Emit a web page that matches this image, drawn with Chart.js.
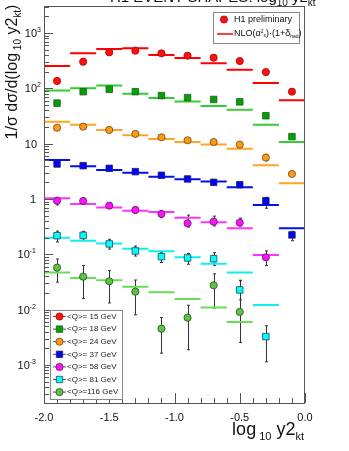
<!DOCTYPE html>
<html>
<head>
<meta charset="utf-8">
<script src="https://cdn.jsdelivr.net/npm/chart.js@4/dist/chart.umd.min.js"></script>
<style>
  html, body { margin: 0; padding: 0; background: #fff; }
</style>
</head>
<body>
<canvas id="c" width="349" height="451"></canvas>
<script>
// --- bins (log10 y2kt) ---
const xCenters = [-1.9, -1.7, -1.5, -1.3, -1.1, -0.9, -0.7, -0.5, -0.3, -0.1];
const xTickLabels = ['-2.0', '-1.5', '-1.0', '-0.5', '0.0'];

// --- H1 data points ---
const q15Data  = [136, 303, 448, 480, 430, 389, 358, 312, 197, 87];
const q18Data  = [54, 87, 96, 87, 74, 68, 63, 57, 32, 13.4];
const q24Data  = [19.4, 20.3, 17.7, 15, 13, 11.5, 10.7, 9.6, 5.6, 2.83];
const q37Data  = [4.29, 4.0, 3.58, 3.12, 2.68, 2.30, 2.0, 1.81, 0.93, 0.224];
const q58Data  = [0.93, 0.92, 0.757, 0.633, 0.536, 0.363, 0.389, 0.373, 0.0883, null];
const q81Data  = [0.217, 0.22, 0.154, 0.115, 0.0906, 0.0859, 0.0834, 0.0227, 0.00325, null];
const q116Data = [0.0574, 0.0394, 0.0325, 0.0211, 0.00453, 0.00716, 0.0275, 0.00908, null, null];

// --- NLO (alpha_s^2)(1+delta_had) per bin ---
const q15Nlo  = [253, 430, 514, 529, 401, 353, 283, 217, 125, 61];
const q18Nlo  = [91, 100, 112, 80, 67, 58, 48, 41, 22, 10.7];
const q24Nlo  = [25, 22, 17.7, 14.2, 12.1, 10.7, 9.7, 8.1, 4.06, 1.92];
const q37Nlo  = [5.07, 3.9, 3.34, 2.99, 2.53, 2.27, 2.06, 1.63, 0.78, 0.295];
const q58Nlo  = [1.03, 0.81, 0.70, 0.615, 0.582, 0.459, 0.379, 0.295, 0.0973, null];
const q81Nlo  = [0.2, 0.176, 0.156, 0.126, 0.113, 0.0883, 0.0678, 0.0467, 0.0121, null];
const q116Nlo = [0.0467, 0.0373, 0.0339, 0.026, 0.0206, 0.0156, 0.0109, 0.00598, null, null];

// --- error bar ends (null = hidden behind marker) ---
const q24Lo  = [null, null, null, null, null, null, null, null, 4.9, 2.55];
const q24Hi  = [null, null, null, null, null, null, null, null, 6.4, 3.15];
const q37Lo  = [null, null, null, null, null, null, null, null, 0.68, 0.176];
const q37Hi  = [null, null, null, null, null, null, null, null, 1.07, 0.26];
const q58Lo  = [0.78, 0.8, 0.68, 0.55, 0.46, 0.31, 0.325, 0.325, 0.0624, null];
const q58Hi  = [1.07, 1.05, 0.84, 0.72, 0.62, 0.51, 0.49, 0.45, 0.115, null];
const q81Lo  = [0.167, 0.18, 0.124, 0.093, 0.071, 0.066, 0.063, 0.015, 0.00114, null];
const q81Hi  = [0.263, 0.26, 0.187, 0.141, 0.107, 0.103, 0.107, 0.034, 0.0051, null];
const q116Lo = [0.0314, 0.0158, 0.0132, 0.00805, 0.00163, 0.00188, 0.0107, 0.00255, null, null];
const q116Hi = [0.0823, 0.0625, 0.0506, 0.0343, 0.0072, 0.012, 0.0443, 0.0334, null, null];

const series = [
  { label: '<Q>= 15 GeV', pts: q15Data, nlo: q15Nlo, lo: null, hi: null, fill: '#ff1010', edge: '#b00000', line: '#ff0000', shape: 'circle' },
  { label: '<Q>= 18 GeV', pts: q18Data, nlo: q18Nlo, lo: null, hi: null, fill: '#00a400', edge: '#225522', line: '#33cc33', shape: 'rect' },
  { label: '<Q>= 24 GeV', pts: q24Data, nlo: q24Nlo, lo: q24Lo, hi: q24Hi, fill: '#ff9a10', edge: '#664422', line: '#ffa526', shape: 'circle' },
  { label: '<Q>= 37 GeV', pts: q37Data, nlo: q37Nlo, lo: q37Lo, hi: q37Hi, fill: '#0000ff', edge: '#222255', line: '#0010ee', shape: 'rect' },
  { label: '<Q>= 58 GeV', pts: q58Data, nlo: q58Nlo, lo: q58Lo, hi: q58Hi, fill: '#ff10ff', edge: '#552255', line: '#ff33ff', shape: 'circle' },
  { label: '<Q>= 81 GeV', pts: q81Data, nlo: q81Nlo, lo: q81Lo, hi: q81Hi, fill: '#00ffff', edge: '#224455', line: '#11eeee', shape: 'rect' },
  { label: '<Q>=116 GeV', pts: q116Data, nlo: q116Nlo, lo: q116Lo, hi: q116Hi, fill: '#5cc444', edge: '#2a4a22', line: '#66dd55', shape: 'circle' }
];

const FONT = '"Liberation Sans", Arial, sans-serif';
const halfBin = 0.1;

// build datasets: NLO steps (broken line) + markers
const datasets = [];
series.forEach(s => {
  const seg = [];
  xCenters.forEach((x, i) => {
    if (s.nlo[i] == null) return;
    seg.push({ x: x - halfBin, y: s.nlo[i] });
    seg.push({ x: x + halfBin, y: s.nlo[i] });
    seg.push({ x: x + halfBin, y: null });
  });
  datasets.push({
    data: seg, showLine: true, spanGaps: false,
    borderColor: s.line, borderWidth: 2, pointRadius: 0, order: 2
  });
});
series.forEach(s => {
  datasets.push({
    data: xCenters.map((x, i) => ({ x: x, y: s.pts[i] })),
    pointStyle: s.shape,
    pointRadius: s.shape === 'rect' ? 4.6 : 3.6,
    backgroundColor: s.fill, borderColor: s.edge, borderWidth: 0.8,
    order: 1
  });
});

// text with sub/superscripts: parts = [text, size, dy]
function richWidth(ctx, parts) {
  let w = 0;
  parts.forEach(p => { ctx.font = p[1] + 'px ' + FONT; w += ctx.measureText(p[0]).width; });
  return w;
}
function drawRich(ctx, parts, x, y) {
  let cx = x;
  parts.forEach(p => {
    ctx.font = p[1] + 'px ' + FONT;
    ctx.fillText(p[0], cx, y + (p[2] || 0));
    cx += ctx.measureText(p[0]).width;
  });
}

function drawMarker(ctx, shape, x, y, fill, edge) {
  ctx.fillStyle = fill; ctx.strokeStyle = edge; ctx.lineWidth = 0.8;
  ctx.beginPath();
  if (shape === 'rect') ctx.rect(x - 3.2, y - 3.2, 6.4, 6.4);
  else ctx.arc(x, y, 3.6, 0, Math.PI * 2);
  ctx.fill(); ctx.stroke();
}

const errorBars = {
  id: 'errorBars',
  beforeDatasetsDraw(chart) {
    const { ctx, scales: { x, y } } = chart;
    ctx.save();
    ctx.strokeStyle = '#333'; ctx.lineWidth = 1;
    series.forEach(s => {
      if (!s.lo) return;
      xCenters.forEach((xv, i) => {
        if (s.lo[i] == null || s.pts[i] == null) return;
        const px = Math.round(x.getPixelForValue(xv)) + 0.5;
        const y1 = y.getPixelForValue(s.hi[i]);
        const y2 = y.getPixelForValue(s.lo[i]);
        ctx.beginPath();
        ctx.moveTo(px, y1); ctx.lineTo(px, y2);
        ctx.moveTo(px - 1.5, y1); ctx.lineTo(px + 1.5, y1);
        ctx.moveTo(px - 1.5, y2); ctx.lineTo(px + 1.5, y2);
        ctx.stroke();
      });
    });
    ctx.restore();
  }
};

const frame = {
  id: 'frame',
  afterDraw(chart) {
    const { ctx, chartArea: a, scales: { x, y } } = chart;
    ctx.save();
    // frame
    ctx.strokeStyle = '#555'; ctx.lineWidth = 1;
    ctx.strokeRect(a.left + 0.5, a.top + 0.5, a.right - a.left - 1, a.bottom - a.top);

    // y ticks (inward, left)
    ctx.beginPath();
    for (let e = -4; e <= 3; e++) {
      for (let m = 1; m <= 9; m++) {
        const v = m * Math.pow(10, e);
        if (v < y.min || v > y.max) continue;
        const py = Math.round(y.getPixelForValue(v)) + 0.5;
        ctx.moveTo(a.left, py); ctx.lineTo(a.left + (m === 1 ? 9 : 5), py);
      }
    }
    // x ticks (inward, bottom)
    for (let k = 0; k <= 20; k++) {
      const v = -2 + k * 0.1;
      const px = Math.round(x.getPixelForValue(v)) + 0.5;
      ctx.moveTo(px, a.bottom); ctx.lineTo(px, a.bottom - (k % 5 === 0 ? 10 : 5));
    }
    ctx.stroke();

    // x tick labels
    ctx.fillStyle = '#111';
    ctx.font = '11px ' + FONT; ctx.textAlign = 'center'; ctx.textBaseline = 'alphabetic';
    xTickLabels.forEach(t => ctx.fillText(t, x.getPixelForValue(parseFloat(t)), 421));

    // y tick labels
    ctx.textAlign = 'left';
    for (let e = -3; e <= 3; e++) {
      const py = y.getPixelForValue(Math.pow(10, e)) + 4;
      if (e === 0) { ctx.font = '11px ' + FONT; ctx.fillText('1', 36 - ctx.measureText('1').width, py); continue; }
      if (e === 1) { ctx.font = '11px ' + FONT; ctx.fillText('10', 37 - ctx.measureText('10').width, py); continue; }
      const sup = String(e);
      ctx.font = '7px ' + FONT;
      const sw = ctx.measureText(sup).width;
      ctx.font = '11px ' + FONT;
      const bw = ctx.measureText('10').width;
      const right = e > 0 ? 37 + sw + 1 : 37;
      drawRich(ctx, [['10', 11, 0], [sup, 7, -5]], right - sw - 1 - bw, py);
    }

    // x title
    const xt = [['log', 18, 0], [' 10', 11, 5], [' y2', 18, 0], ['kt', 11, 5]];
    drawRich(ctx, xt, 304 - richWidth(ctx, xt), 435);

    // y title (rotated)
    const yt = [['1/\u03c3 d\u03c3/d(log', 16, 0], [' 10', 10, 4], [' y2', 16, 0], ['kt', 10, 4], [')', 16, 0]];
    ctx.save();
    ctx.translate(17, 72);
    ctx.rotate(-Math.PI / 2);
    drawRich(ctx, yt, -richWidth(ctx, yt) / 2, 0);
    ctx.restore();

    // page title (cut at top edge)
    const tt = [['H1 EVENT SHAPES: log', 15, 0], ['10', 10, 4], [' y2', 15, 0], ['kt', 10, 4]];
    drawRich(ctx, tt, 110, 2);

    // legend top-right
    ctx.fillStyle = '#fff'; ctx.strokeStyle = '#888';
    ctx.fillRect(213, 12, 86, 31); ctx.strokeRect(213.5, 12.5, 86, 31);
    drawMarker(ctx, 'circle', 224, 19.5, '#ff1010', '#b00000');
    ctx.fillStyle = '#111'; ctx.textBaseline = 'middle';
    ctx.font = '9px ' + FONT; ctx.fillText('H1 preliminary', 234, 19.5);
    ctx.strokeStyle = '#ff0000'; ctx.lineWidth = 1.5;
    ctx.beginPath(); ctx.moveTo(217, 34); ctx.lineTo(233, 34); ctx.stroke();
    drawRich(ctx, [['NLO(\u03b1', 9, 0], ['2', 5, -2.5], ['s', 5, 2], [')\u00b7(1+\u03b4', 9, 0], ['had', 5, 2.5], [')', 9, 0]], 234, 34);

    // legend bottom-left
    ctx.fillStyle = '#fff'; ctx.strokeStyle = '#888'; ctx.lineWidth = 1;
    ctx.fillRect(50, 310, 72, 89); ctx.strokeRect(50.5, 310.5, 72, 89);
    series.forEach((s, i) => {
      const ly = 316.5 + i * 12.6;
      ctx.strokeStyle = '#555'; ctx.lineWidth = 1;
      ctx.beginPath(); ctx.moveTo(53, ly); ctx.lineTo(66, ly); ctx.stroke();
      drawMarker(ctx, s.shape, 59.5, ly, s.fill, s.edge);
      ctx.fillStyle = '#222'; ctx.font = '8px ' + FONT;
      ctx.fillText(s.label, 67, ly);
    });
    ctx.restore();
  }
};

new Chart(document.getElementById('c').getContext('2d'), {
  type: 'scatter',
  data: { datasets: datasets },
  options: {
    responsive: false,
    animation: false,
    layout: { padding: { left: 44, right: 44, top: 6, bottom: 48 } },
    scales: {
      x: { type: 'linear', min: -2, max: 0, display: false },
      y: { type: 'logarithmic', min: 2.05e-4, max: 3080, display: false }
    },
    plugins: { legend: { display: false }, tooltip: { enabled: false } }
  },
  plugins: [errorBars, frame]
});
</script>
</body>
</html>
